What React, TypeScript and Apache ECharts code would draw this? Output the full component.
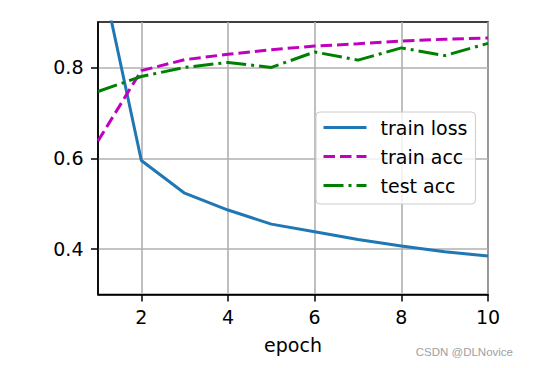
import React, { useEffect, useRef } from "react";
import * as echarts from "echarts";

const epochs = [1, 2, 3, 4, 5, 6, 7, 8, 9, 10];
const trainLoss = [1.04, 0.595, 0.523, 0.486, 0.455, 0.438, 0.421, 0.407, 0.394, 0.385];
const trainAcc = [0.638, 0.793, 0.817, 0.829, 0.839, 0.847, 0.852, 0.858, 0.862, 0.865];
const testAcc = [0.747, 0.78, 0.8, 0.811, 0.8, 0.834, 0.816, 0.843, 0.826, 0.853];
const xTicks = [2, 4, 6, 8, 10];
const yTicks = [0.4, 0.6, 0.8];

const FONT = "DejaVu Sans";

export default function App() {
  const ref = useRef<HTMLDivElement>(null);
  useEffect(() => {
    if (!ref.current) return;
    const chart = echarts.init(ref.current, null, { renderer: "svg" });
    const pair = (ys: number[]) => epochs.map((x, i) => [x, ys[i]]);
    chart.setOption({
      animation: false,
      backgroundColor: "#fff",
      grid: {
        left: 98,
        right: 48,
        top: 22,
        bottom: 73.5,
        show: true,
        borderColor: "#000",
        borderWidth: 1.5,
        backgroundColor: "transparent",
      },
      xAxis: {
        type: "value",
        min: 1,
        max: 10,
        name: "epoch",
        nameLocation: "middle",
        nameGap: 41,
        nameTextStyle: { fontFamily: FONT, fontSize: 19, color: "#000" },
        axisLine: { show: true, lineStyle: { color: "#000", width: 1.5 } },
        axisTick: { show: true, length: 7, customValues: xTicks, lineStyle: { color: "#000", width: 1.5 } },
        axisLabel: { customValues: xTicks, margin: 13, fontFamily: FONT, fontSize: 19, color: "#000" },
        splitLine: { show: true, lineStyle: { color: "#b0b0b0", width: 1.6 } },
      },
      yAxis: {
        type: "value",
        min: 0.3,
        max: 0.9,
        axisLine: { show: true, lineStyle: { color: "#000", width: 1.5 } },
        axisTick: { show: true, length: 7, customValues: yTicks, lineStyle: { color: "#000", width: 1.5 } },
        axisLabel: {
          customValues: yTicks,
          margin: 14.5,
          fontFamily: FONT,
          fontSize: 19,
          color: "#000",
          formatter: (v: number) => v.toFixed(1),
        },
        splitLine: { show: true, lineStyle: { color: "#b0b0b0", width: 1.6 } },
      },
      legend: {
        left: 316,
        top: 112,
        orient: "vertical",
        itemWidth: 43,
        itemHeight: 14,
        itemGap: 10,
        padding: [6, 8, 9, 6],
        borderColor: "#cccccc",
        borderWidth: 1,
        borderRadius: 4,
        backgroundColor: "rgba(255,255,255,0.8)",
        itemStyle: { opacity: 0 },
        lineStyle: { width: 3 },
        textStyle: { fontFamily: FONT, fontSize: 19, color: "#000", padding: [0, 0, 0, 9] },
        data: ["train loss", "train acc", "test acc"],
      },
      series: [
        {
          name: "train loss",
          type: "line",
          data: pair(trainLoss),
          showSymbol: false,
          symbol: "none",
          color: "#1f77b4",
          lineStyle: { color: "#1f77b4", width: 3 },
        },
        {
          name: "train acc",
          type: "line",
          data: pair(trainAcc),
          showSymbol: false,
          symbol: "none",
          color: "#bf00bf",
          lineStyle: { color: "#bf00bf", width: 3, type: [11.5, 5] },
        },
        {
          name: "test acc",
          type: "line",
          data: pair(testAcc),
          showSymbol: false,
          symbol: "none",
          color: "#008000",
          lineStyle: { color: "#008000", width: 3, type: [20, 5, 3, 5] },
        },
      ],
      graphic: [
        {
          type: "text",
          right: 23,
          top: 346,
          style: {
            text: "CSDN @DLNovice",
            fontFamily: "Liberation Sans",
            fontSize: 11.5,
            fill: "#a0a0a0",
          },
        },
      ],
    });
    return () => chart.dispose();
  }, []);
  return <div ref={ref} style={{ position: "fixed", left: 0, top: 0, width: 536, height: 368 }} />;
}
